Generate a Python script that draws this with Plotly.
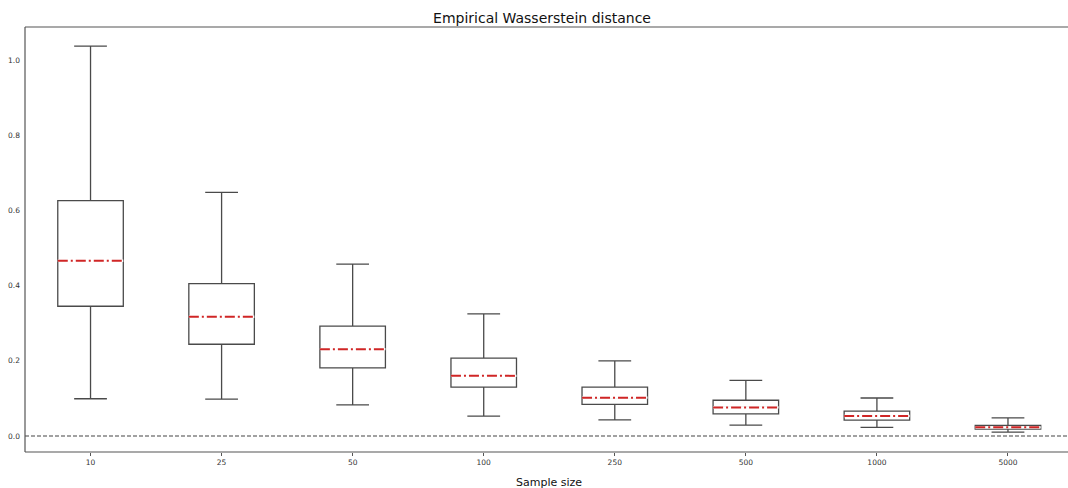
import plotly.graph_objects as go

# Sample sizes and box statistics of the empirical Wasserstein distance
sample_sizes = ["10", "25", "50", "100", "250", "500", "1000", "5000"]
lower_whisker = [0.099, 0.098, 0.083, 0.053, 0.043, 0.029, 0.023, 0.010]
q1 = [0.345, 0.244, 0.181, 0.130, 0.084, 0.059, 0.042, 0.018]
median = [0.466, 0.317, 0.231, 0.160, 0.102, 0.076, 0.053, 0.023]
q3 = [0.626, 0.405, 0.292, 0.207, 0.130, 0.095, 0.066, 0.028]
upper_whisker = [1.037, 0.648, 0.457, 0.325, 0.200, 0.148, 0.101, 0.048]

positions = list(range(len(sample_sizes)))
BOX_W = 0.5
EDGE = "#4a4a4a"
FONT = "DejaVu Sans, Liberation Sans, sans-serif"

fig = go.Figure()

fig.add_trace(go.Box(
    x=positions,
    q1=q1, median=median, q3=q3,
    lowerfence=lower_whisker, upperfence=upper_whisker,
    width=BOX_W, whiskerwidth=0.5,
    fillcolor="white",
    line=dict(color=EDGE, width=1.3),
    boxpoints=False,
    showlegend=False,
    hoverinfo="skip",
))

# Median segments: white underlay, then red dash-dot on top
mx, my = [], []
for p, m in zip(positions, median):
    mx += [p - BOX_W / 2, p + BOX_W / 2, None]
    my += [m, m, None]
fig.add_trace(go.Scatter(x=mx, y=my, mode="lines",
                         line=dict(color="white", width=2.4),
                         showlegend=False, hoverinfo="skip"))
fig.add_trace(go.Scatter(x=mx, y=my, mode="lines",
                         line=dict(color="#d02626", width=2, dash="10px,3px,2px,3px"),
                         showlegend=False, hoverinfo="skip"))

# Reference line at zero
fig.add_hline(y=0, line=dict(color="#444444", width=1.2, dash="4px,2px"))

x_range = [-0.5, 7.458]
y_range = [-0.0426, 1.0878]

# Left, bottom and top spines
for shp in [
    dict(x0=0, x1=0, y0=0, y1=1),
    dict(x0=0, x1=1, y0=0, y1=0),
    dict(x0=0, x1=1, y0=1, y1=1),
]:
    fig.add_shape(type="line", xref="paper", yref="paper",
                  line=dict(color="#555555", width=1.2), layer="above", **shp)

# Axis label, centred on the full category span
fig.add_annotation(text="Sample size", xref="x", yref="paper",
                   x=3.5, y=0, yshift=-30, xanchor="center", yanchor="middle",
                   showarrow=False, font=dict(size=11, color="#111111"))

fig.update_layout(
    width=1068, height=488,
    margin=dict(l=25, r=0, t=27, b=36),
    paper_bgcolor="white", plot_bgcolor="white",
    font=dict(family=FONT, color="#222222"),
    title=dict(text="Empirical Wasserstein distance", x=0.5075, xanchor="center",
               y=0.963, yanchor="middle", font=dict(size=14, color="#111111")),
    xaxis=dict(
        range=x_range, tickmode="array", tickvals=positions, ticktext=sample_sizes,
        showgrid=False, zeroline=False, showline=False,
        ticks="outside", ticklen=3, tickcolor="#555555",
        tickfont=dict(size=7.5, color="#333333"),
    ),
    yaxis=dict(
        range=y_range, tickmode="array",
        tickvals=[0.0, 0.2, 0.4, 0.6, 0.8, 1.0],
        ticktext=["0.0", "0.2", "0.4", "0.6", "0.8", "1.0"],
        showgrid=False, zeroline=False, showline=False,
        ticks="", ticklabelstandoff=4,
        tickfont=dict(size=7.5, color="#333333"),
    ),
)

fig.write_html("out.html")
